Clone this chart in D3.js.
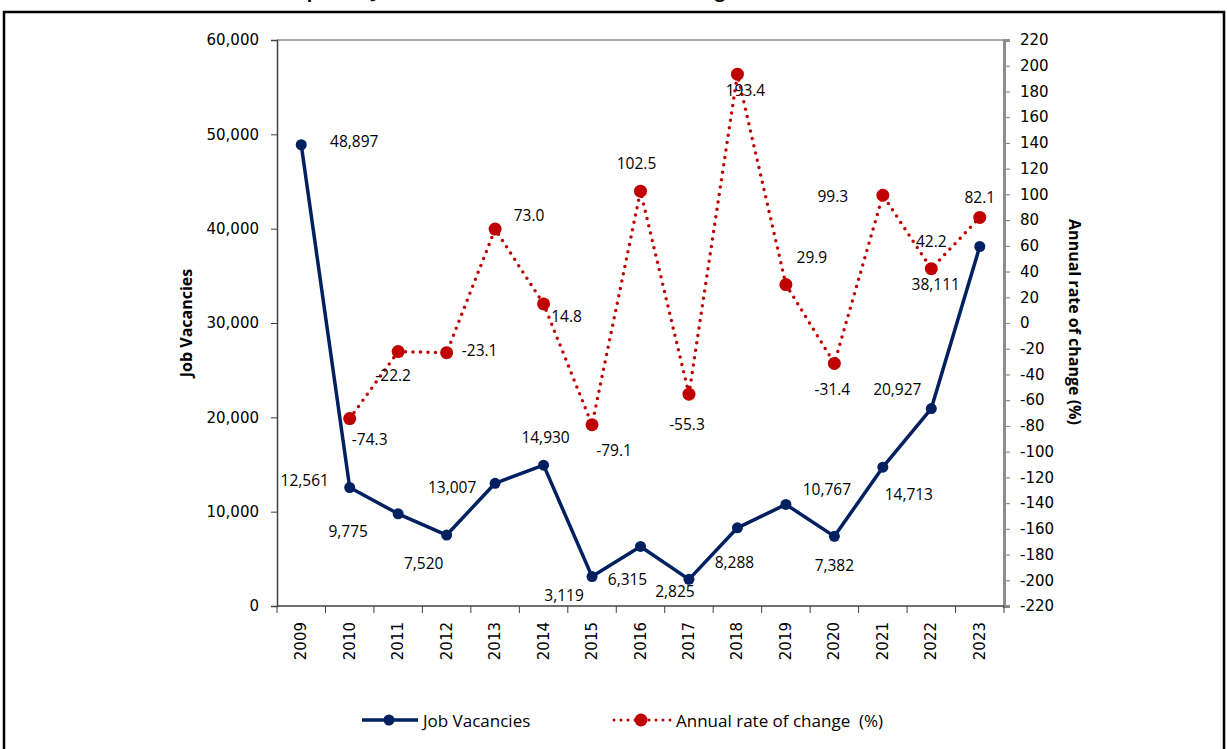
<!DOCTYPE html>
<html>
<head>
<meta charset="utf-8">
<script src="https://cdn.jsdelivr.net/npm/d3@7"></script>
<style>
  body { margin: 0; background: #fff; }
  svg { display: block; }
</style>
</head>
<body>
<div id="chart"></div>
<script>
// data
const years = ['2009', '2010', '2011', '2012', '2013', '2014', '2015', '2016', '2017', '2018', '2019', '2020', '2021', '2022', '2023'];
const vacancies = [48897, 12561, 9775, 7520, 13007, 14930, 3119, 6315, 2825, 8288, 10767, 7382, 14713, 20927, 38111];
const rateChange = [null, -74.3, -22.2, -23.1, 73.0, 14.8, -79.1, 102.5, -55.3, 193.4, 29.9, -31.4, 99.3, 42.2, 82.1];
const leftTicks = [0, 10000, 20000, 30000, 40000, 50000, 60000];
const rightTicks = d3.range(-220, 221, 20);

// label nudges (dx, dy) so they sit roughly where the original put them
const vacLabelOffsets = [[53, -4], [-45, -8], [-50, 17], [-23, 28], [-43, 4], [2, -28], [-28, 18], [-13, 33], [-14, 12], [-3, 34], [41, -15], [0, 29], [26, 27], [-34, -20], [-44, 38]];
const rateLabelOffsets = [null, [20, 20], [-5, 23], [33, -3], [34, -14], [23, 12], [22, 25], [-4, -28], [-2, 30], [8, 16], [26, -28], [-2, 26], [-50, 1], [0, -28], [0, -20]];

const W = 1227, H = 749;
const plot = { left: 277, right: 1004, top: 40, bottom: 606 };
const navy = '#002060', red = '#C00000';
const tickFont = 'DejaVu Sans, Verdana, sans-serif';
const labelFont = 'Open Sans, Liberation Sans, sans-serif';

// plain hyphen for negatives, like the original
const hyphen = (s) => s.replace('\u2212', '-');

const svg = d3.select('#chart').append('svg')
  .attr('width', W)
  .attr('height', H);

// outer frame + title (sits mostly above the page edge in the original)
svg.append('rect')
  .attr('x', 4).attr('y', 12)
  .attr('width', 1220).attr('height', 760)
  .attr('fill', 'none').attr('stroke', '#000').attr('stroke-width', 2.5);

svg.append('text')
  .attr('x', 510).attr('y', -2)
  .attr('text-anchor', 'middle')
  .attr('font-family', labelFont)
  .attr('font-weight', 'bold')
  .attr('font-size', 18)
  .text('Reported Job Vacancies and Annual rate of change');

const x = d3.scaleBand().domain(years).range([plot.left, plot.right]).padding(0);
const yLeft = d3.scaleLinear().domain([0, 60000]).range([plot.bottom, plot.top]);
const yRight = d3.scaleLinear().domain([-220, 220]).range([plot.bottom, plot.top]);
const cx = (d) => x(d) + x.bandwidth() / 2;

// plot area top border
svg.append('line')
  .attr('x1', plot.left).attr('x2', plot.right)
  .attr('y1', plot.top).attr('y2', plot.top)
  .attr('stroke', '#8c8c8c').attr('stroke-width', 1.5);

// left axis
const gLeft = svg.append('g')
  .attr('transform', `translate(${plot.left},0)`)
  .call(d3.axisLeft(yLeft).tickValues(leftTicks).tickSize(6).tickPadding(12).tickFormat(d3.format(',')));
gLeft.select('.domain').attr('stroke', '#404040').attr('stroke-width', 1.5);
gLeft.selectAll('.tick line').attr('stroke', '#404040');
gLeft.selectAll('text').attr('font-family', tickFont).attr('font-size', 15).attr('fill', '#000');

// right axis
const gRight = svg.append('g')
  .attr('transform', `translate(${plot.right},0)`)
  .call(d3.axisRight(yRight).tickValues(rightTicks).tickSize(6).tickPadding(10).tickFormat((d) => String(d)));
gRight.select('.domain').attr('stroke', '#8c8c8c').attr('stroke-width', 3);
gRight.selectAll('.tick line').attr('stroke', '#8c8c8c').attr('stroke-width', 1.2);
gRight.selectAll('text').attr('font-family', tickFont).attr('font-size', 15).attr('fill', '#000');

// bottom axis: ticks on band edges, year labels rotated
const gBottom = svg.append('g').attr('transform', `translate(0,${plot.bottom})`);
gBottom.append('line')
  .attr('x1', plot.left).attr('x2', plot.right)
  .attr('stroke', '#404040').attr('stroke-width', 1.5);
gBottom.selectAll('.edge')
  .data(years.concat(['end']))
  .join('line')
  .attr('class', 'edge')
  .attr('x1', (d, i) => plot.left + i * x.bandwidth())
  .attr('x2', (d, i) => plot.left + i * x.bandwidth())
  .attr('y1', 0).attr('y2', 7)
  .attr('stroke', '#404040');
gBottom.selectAll('.year')
  .data(years)
  .join('text')
  .attr('class', 'year')
  .attr('transform', (d) => `translate(${cx(d)},16) rotate(-90)`)
  .attr('text-anchor', 'end')
  .attr('dominant-baseline', 'central')
  .attr('font-family', tickFont)
  .attr('font-size', 15)
  .text((d) => d);

// axis titles
svg.append('text')
  .attr('transform', 'translate(186,323) rotate(-90)')
  .attr('text-anchor', 'middle')
  .attr('dominant-baseline', 'central')
  .attr('font-family', labelFont)
  .attr('font-weight', 'bold')
  .attr('font-size', 16)
  .text('Job Vacancies');

svg.append('text')
  .attr('transform', 'translate(1075,322) rotate(90)')
  .attr('text-anchor', 'middle')
  .attr('dominant-baseline', 'central')
  .attr('font-family', labelFont)
  .attr('font-weight', 'bold')
  .attr('font-size', 16)
  .text('Annual rate of change (%)');

// rate of change series (dotted red)
const rateData = years.map((y, i) => ({ year: y, v: rateChange[i], off: rateLabelOffsets[i] })).filter((d) => d.v !== null);

svg.append('path')
  .datum(rateData)
  .attr('fill', 'none')
  .attr('stroke', red)
  .attr('stroke-width', 3.5)
  .attr('stroke-linecap', 'round')
  .attr('stroke-dasharray', '0,7.5')
  .attr('d', d3.line().x((d) => cx(d.year)).y((d) => yRight(d.v)));

svg.selectAll('.rate-dot')
  .data(rateData)
  .join('circle')
  .attr('class', 'rate-dot')
  .attr('cx', (d) => cx(d.year))
  .attr('cy', (d) => yRight(d.v))
  .attr('r', 6.5)
  .attr('fill', red);

// job vacancies series (solid navy)
const vacData = years.map((y, i) => ({ year: y, v: vacancies[i], off: vacLabelOffsets[i] }));

svg.append('path')
  .datum(vacData)
  .attr('fill', 'none')
  .attr('stroke', navy)
  .attr('stroke-width', 3.5)
  .attr('stroke-linejoin', 'round')
  .attr('d', d3.line().x((d) => cx(d.year)).y((d) => yLeft(d.v)));

svg.selectAll('.vac-dot')
  .data(vacData)
  .join('circle')
  .attr('class', 'vac-dot')
  .attr('cx', (d) => cx(d.year))
  .attr('cy', (d) => yLeft(d.v))
  .attr('r', 5.5)
  .attr('fill', navy);

// data labels
const addLabels = (data, yScale, fmt, cls) => {
  svg.selectAll('.' + cls)
    .data(data)
    .join('text')
    .attr('class', cls)
    .attr('x', (d) => cx(d.year) + d.off[0])
    .attr('y', (d) => yScale(d.v) + d.off[1])
    .attr('text-anchor', 'middle')
    .attr('dominant-baseline', 'central')
    .attr('font-family', labelFont)
    .attr('font-size', 15.5)
    .attr('fill', '#000')
    .text((d) => hyphen(fmt(d.v)));
};
addLabels(vacData, yLeft, d3.format(','), 'vac-label');
addLabels(rateData, yRight, d3.format('.1f'), 'rate-label');

// legend
const legend = svg.append('g').attr('transform', 'translate(0,720)');
legend.append('line')
  .attr('x1', 362).attr('x2', 418)
  .attr('stroke', navy).attr('stroke-width', 3.5);
legend.append('circle').attr('cx', 389).attr('r', 5.5).attr('fill', navy);
legend.append('text')
  .attr('x', 423).attr('dominant-baseline', 'central')
  .attr('font-family', labelFont).attr('font-size', 17)
  .text('Job Vacancies');

legend.append('line')
  .attr('x1', 614).attr('x2', 672)
  .attr('stroke', red).attr('stroke-width', 3)
  .attr('stroke-linecap', 'round')
  .attr('stroke-dasharray', '0,7');
legend.append('circle').attr('cx', 641).attr('r', 6.5).attr('fill', red);
legend.append('text')
  .attr('x', 676).attr('dominant-baseline', 'central')
  .attr('font-family', labelFont).attr('font-size', 17)
  .style('white-space', 'pre')
  .text('Annual rate of change  (%)');
</script>
</body>
</html>
